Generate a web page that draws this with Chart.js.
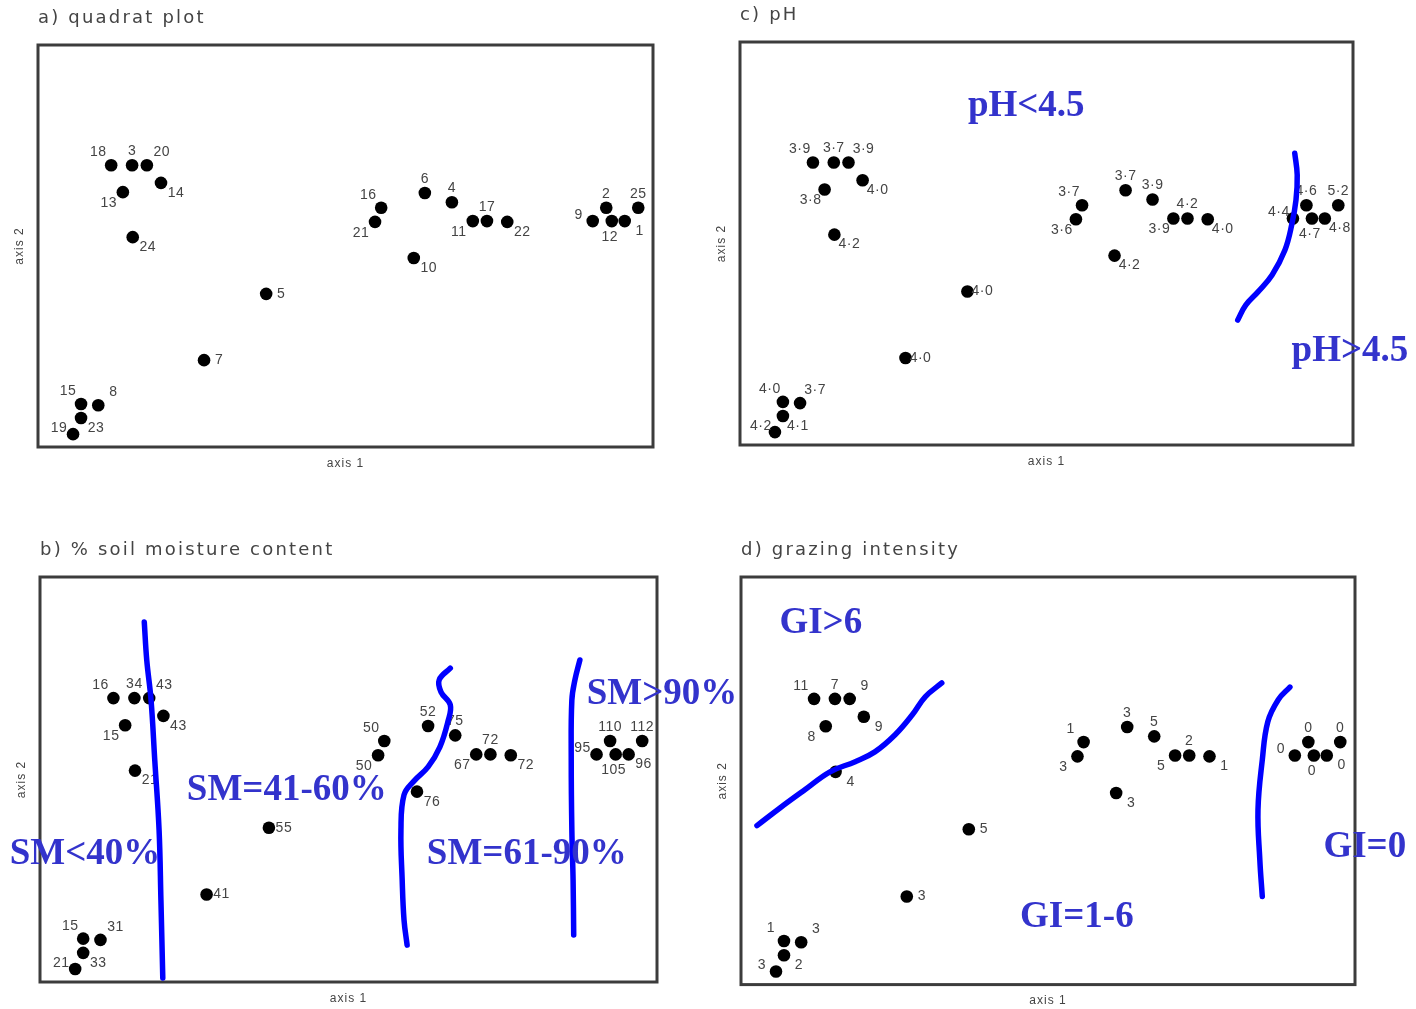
<!DOCTYPE html>
<html>
<head>
<meta charset="utf-8">
<script src="https://cdn.jsdelivr.net/npm/chart.js@4.4.0/dist/chart.umd.min.js"></script>
<style>
  html, body { margin: 0; padding: 0; background: #fff; overflow: hidden; }
  body { width: 1416px; height: 1009px; position: relative; }
  canvas { position: absolute; }
</style>
</head>
<body>
<canvas id="panelA" width="700" height="500" style="left:0;top:0"></canvas>
<canvas id="panelC" width="716" height="500" style="left:700px;top:0"></canvas>
<canvas id="panelB" width="760" height="504" style="left:0;top:505px"></canvas>
<canvas id="panelD" width="716" height="504" style="left:700px;top:505px"></canvas>
<script>
// ordination scores of the 25 quadrats (same in all four panels)
const axis1 = [11.9, 15.3, 17.7, 20.0, 13.8, 15.4, 55.8, 54.8, 62.9, 67.3, 70.7, 73.0, 76.3, 61.1, 92.4, 97.6, 90.2, 93.3, 95.4, 37.1, 27.0, 7.0, 9.8, 7.0, 5.7];
const axis2 = [70.1, 70.1, 70.1, 65.7, 63.4, 52.2, 59.5, 56.0, 63.2, 60.9, 56.2, 56.2, 56.0, 47.0, 59.5, 59.5, 56.2, 56.2, 56.2, 38.1, 21.6, 10.7, 10.4, 7.2, 3.2];

// what is written next to each quadrat in each panel
const quadratLabels = ['18', '3', '20', '14', '13', '24', '16', '21', '6', '4', '11', '17', '22', '10', '2', '25', '9', '12', '1', '5', '7', '15', '8', '23', '19'];
const phLabels = ['3·9', '3·7', '3·9', '4·0', '3·8', '4·2', '3·7', '3·6', '3·7', '3·9', '3·9', '4·2', '4·0', '4·2', '4·6', '5·2', '4·4', '4·7', '4·8', '4·0', '4·0', '4·0', '3·7', '4·1', '4·2'];
const moistureLabels = ['16', '34', '43', '43', '15', '21', '50', '50', '52', '75', '67', '72', '72', '76', '110', '112', '95', '105', '96', '55', '41', '15', '31', '33', '21'];
const grazingLabels = ['11', '7', '9', '9', '8', '4', '1', '3', '3', '5', '5', '2', '1', '3', '0', '0', '0', '0', '0', '5', '3', '1', '3', '2', '3'];

// hand drawn boundaries (axis units)
const phBoundary = [[90.5, 72.4], [90.9, 67.0], [90.7, 60.8], [90.0, 54.6], [88.9, 48.4], [86.8, 42.2], [84.5, 38.0], [82.5, 34.7], [81.2, 31.0]];
const smBoundary40 = [[16.9, 88.9], [17.3, 79.5], [18.0, 69.6], [18.6, 54.8], [19.3, 37.5], [19.6, 20.2], [19.9, 1.0]];
const smBoundary60 = [[66.5, 77.5], [64.7, 74.6], [65.0, 71.6], [66.5, 68.4], [66.1, 64.2], [64.8, 58.0], [62.9, 53.1], [60.6, 49.6], [59.0, 46.2], [58.5, 37.5], [58.7, 25.2], [59.0, 15.3], [59.5, 9.1]];
const smBoundary90 = [[87.5, 79.5], [86.7, 74.6], [86.2, 69.6], [86.1, 54.8], [86.2, 37.5], [86.4, 25.2], [86.5, 11.6]];
const giBoundary6 = [[2.6, 39.0], [6.4, 43.4], [10.4, 47.8], [14.5, 52.2], [18.6, 54.7], [21.8, 57.1], [25.1, 61.3], [27.9, 66.2], [30.0, 70.6], [32.7, 74.0]];
const giBoundary0 = [[89.4, 73.0], [87.5, 69.9], [85.8, 64.5], [84.9, 55.1], [84.2, 42.9], [84.5, 30.6], [84.9, 21.6]];

// hand written notes: text, axis 1, axis 2
const phNotes = [['pH<4.5', 46.7, 83.9], ['pH>4.5', 99.5, 23.1]];
const smNotes = [['SM<40%', 7.3, 31.4], ['SM=41-60%', 40.0, 47.4], ['SM=61-90%', 78.9, 31.4], ['SM>90%', 100.8, 71.1]];
const giNotes = [['GI>6', 13.0, 88.5], ['GI=1-6', 54.7, 16.4], ['GI=0', 101.6, 33.6]];

// where a label sits around its dot
const labelDir = ['nw', 'n', 'ne', 'se', 'sw', 'se', 'nw', 'sw', 'n', 'n', 'sw', 'n', 'se', 'se', 'n', 'n', 'w', 's', 'se', 'e', 'e', 'nw', 'ne', 'se', 'w'];
const dirOffset = { n: [0, -14], nw: [-13, -13], ne: [15, -13], e: [15, 0], se: [15, 10], s: [-2, 16], sw: [-14, 11], w: [-14, -6] };

const INK = '#444';

const panelPlugin = {
    id: 'panel',
    beforeDraw(chart) {
        chart.ctx.letterSpacing = '1px';
    },
    beforeDatasetsDraw(chart, args, opts) {
        const { ctx, chartArea: a } = chart;
        ctx.save();
        ctx.strokeStyle = '#3c3c3c';
        ctx.lineWidth = 3;
        ctx.strokeRect(a.left, a.top, a.right - a.left, a.bottom - a.top);
        ctx.fillStyle = INK;
        ctx.font = '18px "DejaVu Sans"';
        ctx.letterSpacing = '2.2px';
        ctx.textBaseline = 'middle';
        ctx.textAlign = 'left';
        ctx.fillText(opts.title, a.left, a.top - 27);
        ctx.restore();
    },
    afterDatasetDraw(chart, args) {
        const ds = chart.data.datasets[args.index];
        if (!ds.pointLabels) return;
        const ctx = chart.ctx;
        ctx.save();
        ctx.fillStyle = INK;
        ctx.font = '14px "Liberation Sans"';
        ctx.letterSpacing = '0.5px';
        ctx.textAlign = 'center';
        ctx.textBaseline = 'middle';
        args.meta.data.forEach((pt, i) => {
            const off = dirOffset[labelDir[i]];
            ctx.fillText(ds.pointLabels[i], pt.x + off[0], pt.y + off[1]);
        });
        ctx.restore();
    },
    afterDraw(chart, args, opts) {
        const ctx = chart.ctx;
        const xs = chart.scales.x, ys = chart.scales.y;
        ctx.save();
        ctx.letterSpacing = '0px';
        ctx.fillStyle = '#3333cc';
        ctx.font = 'bold 37px "Liberation Serif"';
        ctx.textAlign = 'center';
        ctx.textBaseline = 'middle';
        opts.notes.forEach(n => {
            ctx.fillText(n[0], xs.getPixelForValue(n[1]), ys.getPixelForValue(n[2]));
        });
        ctx.restore();
    }
};

function makePanel(id, title, labels, boundaries, notes, pad) {
    const lineSets = boundaries.map(b => ({
        type: 'line',
        data: b.map(p => ({ x: p[0], y: p[1] })),
        borderColor: '#0000ff',
        borderWidth: 5.5,
        borderCapStyle: 'round',
        pointRadius: 0,
        tension: 0.4,
        fill: false,
        clip: false,
    }));
    const points = {
        data: axis1.map((x, i) => ({ x: x, y: axis2[i] })),
        pointRadius: 6.3,
        pointBackgroundColor: '#000',
        borderWidth: 0,
        pointLabels: labels,
    };
    new Chart(document.getElementById(id), {
        type: 'scatter',
        data: { datasets: lineSets.concat([points]) },
        options: {
            responsive: false,
            animation: false,
            layout: { padding: pad },
            plugins: {
                legend: { display: false },
                tooltip: { enabled: false },
                panel: { title: title, notes: notes },
            },
            scales: {
                x: {
                    min: 0, max: 100,
                    ticks: { display: false },
                    grid: { display: false, drawTicks: false },
                    border: { display: false },
                    title: { display: true, text: 'axis 1', color: INK, font: { size: 12, family: 'Liberation Sans' }, padding: { top: 9, bottom: 1 } },
                },
                y: {
                    min: 0, max: 100,
                    ticks: { display: false },
                    grid: { display: false, drawTicks: false },
                    border: { display: false },
                    title: { display: true, text: 'axis 2', color: INK, font: { size: 12, family: 'Liberation Sans' }, padding: { top: 4, bottom: 11 } },
                },
            },
        },
        plugins: [panelPlugin],
    });
}

makePanel('panelA', 'a) quadrat plot', quadratLabels, [], [], { left: 8.6, top: 45, right: 47, bottom: 28.6 });
makePanel('panelC', 'c) pH', phLabels, [phBoundary], phNotes, { left: 10.6, top: 42, right: 63, bottom: 30.6 });
makePanel('panelB', 'b) % soil moisture content', moistureLabels, [smBoundary40, smBoundary60, smBoundary90], smNotes, { left: 10.6, top: 72, right: 103, bottom: 2.6 });
makePanel('panelD', 'd) grazing intensity', grazingLabels, [giBoundary6, giBoundary0], giNotes, { left: 11.6, top: 72, right: 61, bottom: 0 });
</script>
</body>
</html>
